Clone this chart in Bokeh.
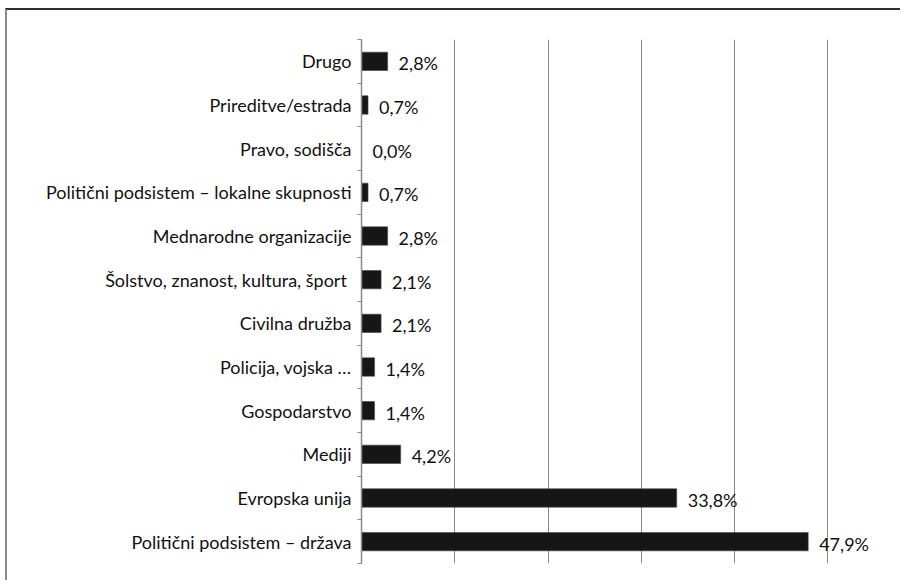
from bokeh.plotting import figure
from bokeh.models import ColumnDataSource, FixedTicker, Range1d, InlineStyleSheet
from bokeh.embed import file_html
from bokeh.resources import INLINE
from bokeh.core.properties import value

categories = [
    "Politični podsistem – država",
    "Evropska unija",
    "Mediji",
    "Gospodarstvo",
    "Policija, vojska …",
    "Civilna družba",
    "Šolstvo, znanost,  kultura, šport",
    "Mednarodne organizacije",
    "Politični podsistem – lokalne skupnosti",
    "Pravo, sodišča",
    "Prireditve/estrada",
    "Drugo",
]
values = [47.9, 33.8, 4.2, 1.4, 1.4, 2.1, 2.1, 2.8, 0.7, 0.0, 0.7, 2.8]
grid_ticks = [10, 20, 30, 40, 50]

n = len(categories)
centers = [i + 0.5 for i in range(n)]
labels = [f"{v:.1f}".replace(".", ",") + "%" for v in values]
src = ColumnDataSource(dict(y=centers, v=values, lab=labels))

p = figure(width=900, height=580, output_backend="svg", toolbar_location=None,
           x_range=Range1d(0, 57.8), y_range=Range1d(0, n),
           min_border_left=361, min_border_top=39, min_border_bottom=17,
           min_border_right=0)
p.outline_line_color = None
p.background_fill_color = "white"
p.border_fill_color = "white"
p.stylesheets = [InlineStyleSheet(css="""
:host::after {
  content: "";
  position: absolute;
  left: 5px; top: 8px; right: 0px; bottom: 0px;
  border-top: 2px solid #2e2e2e;
  border-left: 2px solid #8a8a8a;
  pointer-events: none;
  z-index: 10;
}
""")]

p.hbar(y="y", right="v", left=0, height=0.42, source=src,
       fill_color="#161616", line_color="#444444", line_width=0.6)
p.text(x="v", y="y", text="lab", source=src, x_offset=11, y_offset=2,
       text_baseline="middle", text_align="left",
       text_font=value("Lato"), text_font_size="18px", text_color="#111111")

p.xaxis.visible = False
p.xgrid.ticker = FixedTicker(ticks=grid_ticks)
p.xgrid.grid_line_color = "#8a8a8a"
p.xgrid.grid_line_width = 1
p.ygrid.grid_line_color = None

ya = p.yaxis[0]
ya.ticker = FixedTicker(ticks=centers, minor_ticks=list(range(n + 1)))
ya.major_label_overrides = {c: name for c, name in zip(centers, categories)}
ya.major_tick_out = 0
ya.major_tick_in = 0
ya.minor_tick_out = 4
ya.minor_tick_in = 0
ya.minor_tick_line_color = "#8a8a8a"
ya.axis_line_color = "#8a8a8a"
ya.axis_line_width = 1.5
ya.major_label_standoff = 6
ya.major_label_text_font = "Lato"
ya.major_label_text_font_size = "18px"
ya.major_label_text_color = "#111111"

open("out.html", "w").write(file_html(p, INLINE))
